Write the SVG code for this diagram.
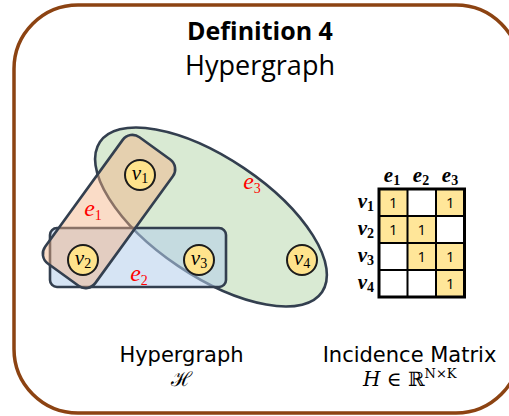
<svg xmlns="http://www.w3.org/2000/svg" width="509" height="416" viewBox="0 0 509 416">
<style>
.frame{fill:#fff;stroke:#8c4312;stroke-width:3.5}
.title{font-family:"Open Sans","Liberation Sans",sans-serif;fill:#000;text-anchor:middle}
.lbl{font-family:"DejaVu Sans","Liberation Sans",sans-serif;font-size:21px;fill:#000;text-anchor:middle}
.math{font-family:"DejaVu Serif","Liberation Serif",serif;fill:#000}
.edge{stroke:#333f4f;stroke-width:2.6}
.vert{fill:#ffe38c;stroke:#1c1c1c;stroke-width:2}
.vl{font-family:"Liberation Serif","DejaVu Serif",serif;font-style:italic;font-size:21px;fill:#000;text-anchor:middle}
.el{font-family:"Liberation Serif","DejaVu Serif",serif;font-style:italic;font-size:24px;fill:#ff0000;text-anchor:middle}
.sub{font-size:14px;font-style:normal}
.cell{fill:#ffe699}
.grid{stroke:#000;stroke-width:2;fill:none}
.one{font-family:"Open Sans","Liberation Sans",sans-serif;font-size:15px;fill:#000;text-anchor:middle}
.mh{font-family:"Liberation Serif","DejaVu Serif",serif;font-style:italic;font-weight:bold;font-size:21px;fill:#000}
</style>
<rect class="frame" x="14" y="5" width="506" height="408" rx="64"/>
<g id="title">
<text class="title" x="260" y="40" font-size="25" font-weight="bold">Definition 4</text>
<text class="title" x="260" y="75" font-size="27">Hypergraph</text>
</g>
<g id="hyperedges">
<g id="e3"><ellipse class="edge" cx="211" cy="217" rx="134" ry="59" transform="rotate(34 211 217)" fill="#d9ead3"/></g>
<g id="e2"><rect class="edge" x="50" y="228" width="176" height="59" rx="7" fill="#b4cdeb" fill-opacity="0.55"/></g>
<g id="e1"><rect class="edge" x="31" y="180.5" width="156" height="62" rx="12" transform="rotate(-54 109 211.5)" fill="#f4b183" fill-opacity="0.45"/></g>
<text class="el" x="93" y="216">e<tspan class="sub" dy="4">1</tspan></text>
<text class="el" x="139" y="281">e<tspan class="sub" dy="4">2</tspan></text>
<text class="el" x="252" y="189">e<tspan class="sub" dy="4">3</tspan></text>
</g>
<g id="v1"><circle class="vert" cx="140" cy="175" r="15"/><text class="vl" x="140" y="180">v<tspan class="sub" dy="3">1</tspan></text></g>
<g id="v2"><circle class="vert" cx="83" cy="260" r="15"/><text class="vl" x="83" y="265">v<tspan class="sub" dy="3">2</tspan></text></g>
<g id="v3"><circle class="vert" cx="199" cy="260" r="15"/><text class="vl" x="199" y="265">v<tspan class="sub" dy="3">3</tspan></text></g>
<g id="v4"><circle class="vert" cx="302" cy="260" r="15"/><text class="vl" x="302" y="265">v<tspan class="sub" dy="3">4</tspan></text></g>
<g id="matrix">
<rect class="cell" x="379" y="189" width="28.5" height="27"/>
<rect class="cell" x="436" y="189" width="28.5" height="27"/>
<rect class="cell" x="379" y="216" width="28.5" height="27"/>
<rect class="cell" x="407.5" y="216" width="28.5" height="27"/>
<rect class="cell" x="407.5" y="243" width="28.5" height="27"/>
<rect class="cell" x="436" y="243" width="28.5" height="27"/>
<rect class="cell" x="436" y="270" width="28.5" height="27"/>
<path class="grid" d="M407.5 189V297M436 189V297M379 216H464.5M379 243H464.5M379 270H464.5"/>
<rect x="379" y="189" width="85.5" height="108" fill="none" stroke="#000" stroke-width="3"/>
<text class="one" x="393.25" y="208">1</text>
<text class="one" x="450.25" y="208">1</text>
<text class="one" x="393.25" y="235">1</text>
<text class="one" x="421.75" y="235">1</text>
<text class="one" x="421.75" y="262">1</text>
<text class="one" x="450.25" y="262">1</text>
<text class="one" x="450.25" y="289">1</text>
<text class="mh" x="392" y="182" text-anchor="middle">e<tspan class="sub" dy="3">1</tspan></text>
<text class="mh" x="421" y="182" text-anchor="middle">e<tspan class="sub" dy="3">2</tspan></text>
<text class="mh" x="450" y="182" text-anchor="middle">e<tspan class="sub" dy="3">3</tspan></text>
<text class="mh" x="374" y="208" text-anchor="end">v<tspan class="sub" dy="3">1</tspan></text>
<text class="mh" x="374" y="235" text-anchor="end">v<tspan class="sub" dy="3">2</tspan></text>
<text class="mh" x="374" y="262" text-anchor="end">v<tspan class="sub" dy="3">3</tspan></text>
<text class="mh" x="374" y="289" text-anchor="end">v<tspan class="sub" dy="3">4</tspan></text>
</g>
<g id="labels">
<text class="lbl" x="181.5" y="362">Hypergraph</text>
<text class="math" x="181" y="386" font-size="20" text-anchor="middle">ℋ</text>
<text class="lbl" x="409.5" y="362">Incidence Matrix</text>
<text class="math" x="363" y="386" font-size="20"><tspan font-style="italic">H</tspan> ∈ ℝ<tspan font-size="13" dy="-8">N×K</tspan></text>
</g>
</svg>
